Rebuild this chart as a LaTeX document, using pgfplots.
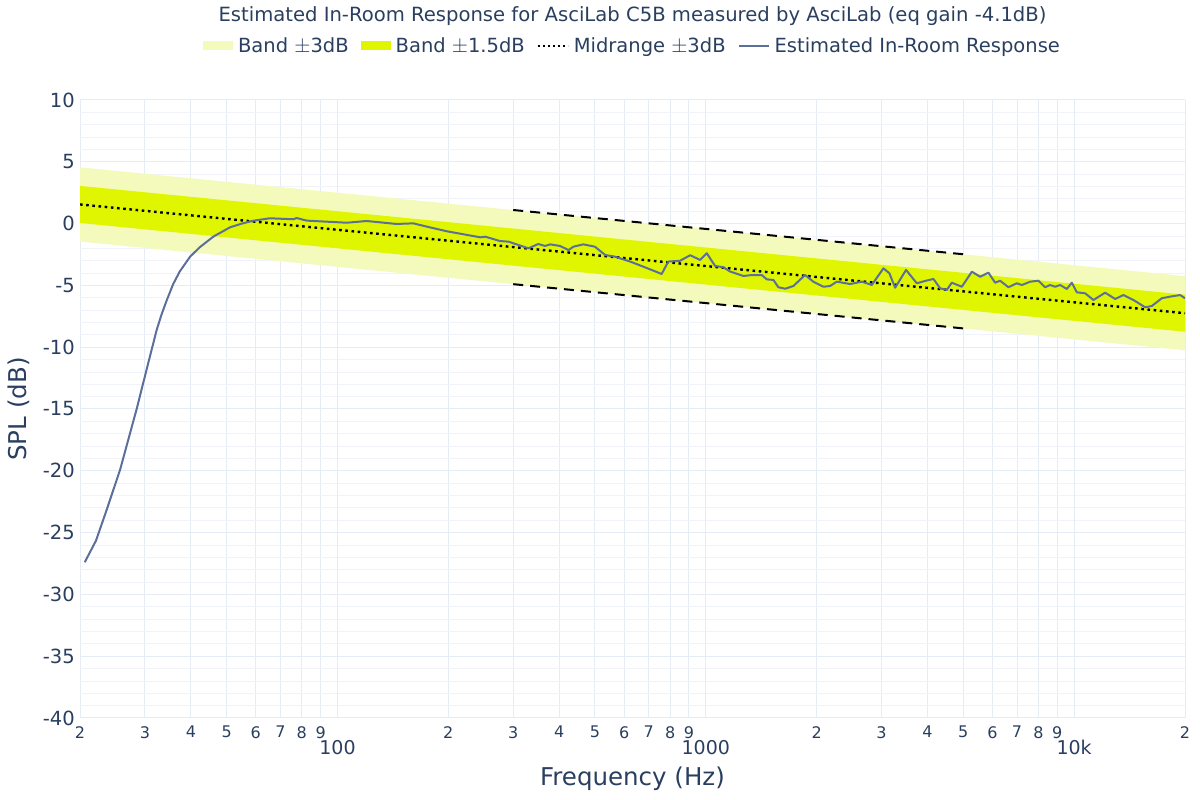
\documentclass[border=0pt]{standalone}
\usepackage{pgfplots}
\pgfplotsset{compat=1.18}
\usepackage{fontspec}
\setmainfont{DejaVu Sans}
\definecolor{txt}{HTML}{2A3F5F}
\definecolor{gridc}{HTML}{E6ECF5}
\definecolor{gridm}{HTML}{F0F3F9}
\definecolor{bandlight}{RGB}{243,250,188}
\definecolor{banddark}{RGB}{224,246,0}
\definecolor{resp}{RGB}{92,111,155}
\begin{document}
\begin{tikzpicture}
\path[use as bounding box] (0,0) rectangle (1200pt,800pt);
\begin{axis}[
  at={(80pt,82pt)}, anchor=south west,
  scale only axis, width=1105pt, height=618pt,
  xmode=log, log basis x=10,
  xmin=20, xmax=20000, ymin=-40, ymax=10,
  axis line style={draw=none},
  major tick length=0pt, minor tick length=0pt,
  xtick={20,30,40,50,60,70,80,90,200,300,400,500,600,700,800,900,2000,3000,4000,5000,6000,7000,8000,9000,20000},
  xticklabels={2,3,4,5,6,7,8,9,2,3,4,5,6,7,8,9,2,3,4,5,6,7,8,9,2},
  extra x ticks={100,1000,10000},
  extra x tick labels={100,1000,10k},
  extra x tick style={grid=major, xticklabel style={yshift=-14pt, font=\fontsize{19}{21}\selectfont}},
  ytick={-40,-35,-30,-25,-20,-15,-10,-5,0,5,10},
  yticklabels={-40,-35,-30,-25,-20,-15,-10,-5,0,5,10},
  minor y tick num=4,
  xminorticks=false,
  grid=both,
  major grid style={gridc, line width=1pt},
  minor grid style={gridm, line width=0.8pt},
  xticklabel style={anchor=north, inner sep=0pt, yshift=-8pt, text=txt, font=\fontsize{16}{18}\selectfont},
  yticklabel style={anchor=east, inner sep=0pt, xshift=-5pt, text=txt, font=\fontsize{19.5}{21}\selectfont},
  xlabel={Frequency (Hz)},
  ylabel={SPL (dB)},
  xlabel style={at={(axis description cs:0.5,-0.0987)}, anchor=center, text=txt, font=\fontsize{24.5}{26}\selectfont},
  ylabel style={at={(axis description cs:-0.055,0.5)}, anchor=center, text=txt, font=\fontsize{24.5}{26}\selectfont},
  title={Estimated In-Room Response for AsciLab C5B measured by AsciLab (eq gain -4.1dB)},
  title style={at={(axis description cs:0.5,1.1262)}, anchor=center, text=txt, font=\fontsize{19.6}{22}\selectfont},
  legend columns=-1,
  legend style={at={(axis description cs:0.5,1.0874)}, anchor=center, draw=none, fill=none,
    text=txt, font=\fontsize{19.5}{21}\selectfont,
    /tikz/every even column/.append style={column sep=10pt},
    /tikz/every odd column/.append style={column sep=3pt}},
  clip=true,
]
\addplot[fill=bandlight, draw=none,
  legend image code/.code={\fill[bandlight] (0pt,-4.5pt) rectangle (30pt,4.5pt);}]
  coordinates {(20,4.55) (20000,-4.25) (20000,-10.25) (20,-1.45)} -- cycle;
\addlegendentry{Band $\pm$3dB}
\addplot[fill=banddark, draw=none,
  legend image code/.code={\fill[banddark] (0pt,-4.5pt) rectangle (30pt,4.5pt);}]
  coordinates {(20,3.05) (20000,-5.75) (20000,-8.75) (20,0.05)} -- cycle;
\addlegendentry{Band $\pm$1.5dB}
\addplot[black, line width=2.4pt, dash pattern=on 2.6pt off 3.6pt,
  legend image code/.code={\draw[black, line width=2pt, dash pattern=on 2pt off 3pt] (0pt,0pt) -- (30pt,0pt);}]
  coordinates {(20,1.55) (20000,-7.25)};
\addlegendentry{Midrange $\pm$3dB}
\addplot[black, line width=2pt, dash pattern=on 10pt off 7pt, forget plot]
  coordinates {(300,1.10) (5000,-2.48)};
\addplot[black, line width=2pt, dash pattern=on 10pt off 7pt, forget plot]
  coordinates {(300,-4.90) (5000,-8.48)};
\addplot[resp, line width=2pt, line join=round,
  legend image code/.code={\draw[resp, line width=2pt] (0pt,0pt) -- (30pt,0pt);}]
  coordinates {
(20.6,-27.4) (22.1,-25.65) (23.6,-23.2) (25.7,-19.9) (28.5,-15.0) (30.3,-11.85)
(31.3,-10.2) (32.3,-8.6) (33.3,-7.35) (34.4,-6.2) (35.8,-4.9) (37.3,-3.88) (39.8,-2.68) (42.3,-1.91)
(46.0,-1.06) (51.1,-0.3) (55,0.0) (59.1,0.23) (65.5,0.43) (75.9,0.35) (77.5,0.45) (82.5,0.24) (106,0.07)
(120,0.21) (144.6,-0.03) (160.6,0.02) (178,-0.3) (198,-0.62) (244,-1.11)
(252,-1.06) (276,-1.41) (291,-1.46) (330,-2.0) (351,-1.65) (366,-1.81)
(378,-1.68) (402,-1.81) (424,-2.14) (437,-1.87) (465,-1.68) (500,-1.87)
(533,-2.54) (567,-2.68) (623,-3.07) (706,-3.70) (759,-4.08) (791,-3.07)
(851,-3.01) (907,-2.56) (965,-2.94) (1006,-2.40) (1060,-3.43) (1116,-3.53)
(1164,-3.88) (1265,-4.24) (1335,-4.16) (1419,-4.16) (1464,-4.51) (1526,-4.56)
(1574,-5.15) (1642,-5.27) (1729,-5.05) (1860,-4.16) (1959,-4.70) (2086,-5.11)
(2175,-5.05) (2268,-4.70) (2465,-4.89) (2652,-4.70) (2822,-4.97) (3036,-3.62)
(3151,-4.02) (3266,-5.19) (3497,-3.75) (3740,-4.83) (3940,-4.64) (4150,-4.48)
(4326,-5.23) (4510,-5.37) (4655,-4.78) (4955,-5.11) (5276,-3.89) (5556,-4.30)
(5852,-3.97) (6102,-4.78) (6296,-4.62) (6630,-5.15) (6988,-4.83) (7212,-4.97)
(7594,-4.70) (7998,-4.62) (8340,-5.15) (8604,-4.97) (8880,-5.11) (9162,-4.97)
(9554,-5.29) (9856,-4.78) (10168,-5.56) (10712,-5.64) (11282,-6.18) (12140,-5.59)
(12924,-6.10) (13610,-5.78) (14486,-6.18) (15586,-6.77) (16250,-6.67) (17298,-6.04)
(18222,-5.91) (19400,-5.78) (20000,-6.04)
  };
\addlegendentry{Estimated In-Room Response}
\end{axis}
\end{tikzpicture}
\end{document}
